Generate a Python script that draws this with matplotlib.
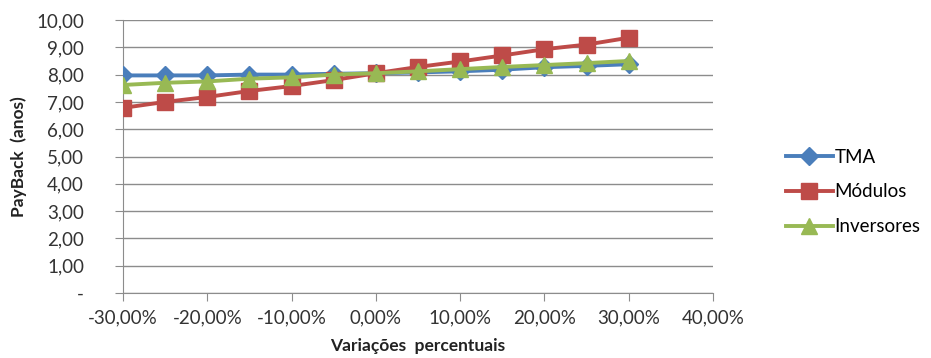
import matplotlib
matplotlib.use("Agg")
import matplotlib.pyplot as plt
from matplotlib.ticker import FuncFormatter

plt.rcParams['font.family'] = ['Lato', 'DejaVu Sans']

variacoes = [-30, -25, -20, -15, -10, -5, 0, 5, 10, 15, 20, 25, 30]
tma = [7.97, 7.97, 7.97, 8.00, 8.00, 8.03, 8.05, 8.08, 8.12, 8.18, 8.27, 8.32, 8.38]
modulos = [6.78, 7.00, 7.18, 7.40, 7.58, 7.80, 8.05, 8.28, 8.48, 8.70, 8.93, 9.10, 9.35]
inversores = [7.62, 7.70, 7.75, 7.85, 7.90, 8.00, 8.05, 8.12, 8.20, 8.28, 8.35, 8.42, 8.50]

fig = plt.figure(figsize=(9.31, 3.58), dpi=100)
ax = fig.add_axes([123/931, 1 - 293/358, 590/931, 273/358])

ax.plot(variacoes, tma, color='#4A7EBB', lw=2.8, marker='D', ms=9, label='TMA', zorder=3)
ax.plot(variacoes, modulos, color='#BE4B48', lw=2.8, marker='s', ms=11, label='Módulos', zorder=4)
ax.plot(variacoes, inversores, color='#98B954', lw=2.8, marker='^', ms=11, label='Inversores', zorder=5)

ax.set_xlim(-30, 40)
ax.set_ylim(0, 10)
ax.set_xticks(range(-30, 41, 10))
ax.set_yticks(range(0, 11))
ax.xaxis.set_major_formatter(FuncFormatter(lambda v, p: f"{v:.2f}%".replace('.', ',')))
ax.yaxis.set_major_formatter(FuncFormatter(lambda v, p: '-' if v == 0 else f"{v:.2f}".replace('.', ',')))

ax.grid(axis='y', color='#8c8c8c', lw=1)
ax.set_axisbelow(True)
for s in ['top', 'right']:
    ax.spines[s].set_visible(False)
for s in ['left', 'bottom']:
    ax.spines[s].set_color('#8c8c8c')
ax.tick_params(colors='#8c8c8c', labelcolor='#333333', labelsize=13.5, length=6)
ax.tick_params(axis='x', pad=6)
ax.tick_params(axis='y', pad=22)

ax.set_xlabel('Variações  percentuais', fontsize=12.5, fontweight='bold', color='#222222', labelpad=8)
ax.set_ylabel('PayBack  (anos)', fontsize=12.5, fontweight='bold', color='#222222', labelpad=7)

ax.legend(loc='center left', bbox_to_anchor=(1.095, 0.37), frameon=False, fontsize=13.5,
          handlelength=2.5, labelspacing=0.95, handletextpad=0.1)

fig.savefig('out.png', dpi=100)
